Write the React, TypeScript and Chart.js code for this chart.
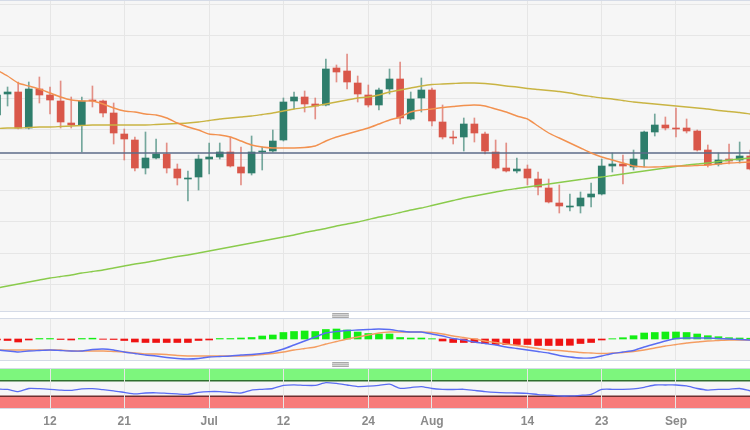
import { useEffect, useRef } from 'react';
import { Chart, registerables } from 'chart.js';

Chart.register(...registerables);

// ---- x axis: trading-day index, labelled days ----
const tickIndex = [5, 12, 20, 27, 35, 41, 50, 57, 64];
const tickLabels = ['12', '21', 'Jul', '12', '24', 'Aug', '14', '23', 'Sep'];

// ---- price candles (index 0 = first trading day shown) ----
const opens = [
  147.70, 148.12, 148.16, 147.44, 148.22, 148.10, 147.98, 147.54, 147.50, 148.00,
  147.98, 147.74, 147.32, 147.20, 146.64, 146.84, 146.92, 146.62, 146.42, 146.46,
  146.82, 146.86, 146.96, 146.66, 146.54, 146.96, 146.98, 147.20, 147.98, 148.06,
  147.92, 147.90, 148.64, 148.58, 148.34, 148.10, 147.90, 148.22, 148.42, 147.62,
  148.04, 148.20, 147.56, 147.26, 147.26, 147.52, 147.32, 146.96, 146.64, 146.58,
  146.62, 146.42, 146.24, 145.94, 145.86, 145.88, 146.06, 146.12, 146.68, 146.72,
  146.66, 146.82, 147.36, 147.50, 147.44, 147.44, 147.38, 147.00, 146.72, 146.82,
  146.80, 146.88,
];
const highs = [
  148.16, 148.26, 148.36, 148.36, 148.46, 148.26, 148.38, 148.06, 148.06, 148.28,
  148.00, 147.94, 147.42, 147.26, 147.36, 147.22, 147.14, 146.72, 146.58, 146.90,
  147.14, 147.14, 147.26, 147.06, 147.28, 147.06, 147.40, 148.04, 148.16, 148.18,
  148.04, 148.82, 148.70, 148.92, 148.48, 148.30, 148.24, 148.62, 148.76, 148.16,
  148.44, 148.24, 147.90, 147.38, 147.64, 147.64, 147.36, 147.20, 147.14, 146.84,
  146.70, 146.56, 146.42, 146.30, 146.12, 146.16, 146.34, 146.82, 146.94, 146.90,
  147.00, 147.38, 147.72, 147.66, 147.84, 147.62, 147.40, 147.10, 146.94, 147.12,
  147.16, 147.00,
];
const lows = [
  147.66, 147.88, 147.42, 147.42, 147.94, 147.72, 147.44, 147.44, 146.96, 147.86,
  147.66, 147.12, 146.80, 146.58, 146.52, 146.82, 146.54, 146.30, 145.98, 146.20,
  146.52, 146.82, 146.66, 146.30, 146.50, 146.60, 146.96, 147.18, 147.82, 147.76,
  147.62, 147.88, 148.36, 148.22, 147.96, 147.86, 147.80, 148.12, 147.52, 147.60,
  147.76, 147.48, 147.22, 147.12, 146.98, 147.16, 146.92, 146.62, 146.56, 146.54,
  146.30, 146.10, 145.94, 145.74, 145.78, 145.74, 145.86, 146.10, 146.56, 146.32,
  146.60, 146.66, 147.28, 147.40, 147.26, 147.34, 146.98, 146.66, 146.68, 146.72,
  146.74, 146.60,
];
const closes = [
  148.10, 148.16, 147.44, 148.22, 148.10, 148.00, 147.56, 147.50, 147.98, 147.98,
  147.74, 147.34, 147.22, 146.64, 146.84, 146.92, 146.64, 146.44, 146.44, 146.82,
  146.86, 146.96, 146.68, 146.54, 146.96, 146.98, 147.18, 147.96, 148.06, 147.92,
  147.88, 148.62, 148.56, 148.36, 148.12, 147.90, 148.20, 148.42, 147.64, 148.02,
  148.20, 147.58, 147.26, 147.24, 147.52, 147.34, 146.98, 146.64, 146.58, 146.62,
  146.44, 146.26, 145.96, 145.88, 145.88, 146.04, 146.12, 146.68, 146.72, 146.68,
  146.82, 147.36, 147.50, 147.44, 147.42, 147.38, 147.00, 146.70, 146.80, 146.78,
  146.88, 146.62,
];

// ---- moving averages ----
const smaFast = [
  148.60, 148.48, 148.34, 148.28, 148.22, 148.14, 148.06, 148.00, 147.98, 147.98,
  147.92, 147.84, 147.78, 147.76, 147.72, 147.70, 147.64, 147.54, 147.46, 147.40,
  147.32, 147.30, 147.26, 147.18, 147.10, 147.06, 147.04, 147.04, 147.04, 147.05,
  147.08, 147.18, 147.26, 147.32, 147.38, 147.44, 147.52, 147.60, 147.66, 147.76,
  147.80, 147.82, 147.85, 147.87, 147.89, 147.90, 147.88, 147.82, 147.76, 147.68,
  147.62, 147.48, 147.34, 147.24, 147.14, 147.04, 146.94, 146.86, 146.80, 146.74,
  146.68, 146.66, 146.66, 146.67, 146.68, 146.68, 146.69, 146.70, 146.72, 146.74,
  146.75, 146.76,
];
const smaMid = [
  147.43, 147.44, 147.44, 147.45, 147.46, 147.46, 147.47, 147.48, 147.49, 147.50,
  147.50, 147.50, 147.50, 147.50, 147.50, 147.51, 147.52, 147.53, 147.54, 147.56,
  147.59, 147.62, 147.64, 147.66, 147.68, 147.71, 147.74, 147.78, 147.82, 147.85,
  147.88, 147.92, 147.96, 148.00, 148.04, 148.06, 148.10, 148.16, 148.20, 148.24,
  148.28, 148.31, 148.32, 148.33, 148.34, 148.34, 148.33, 148.31, 148.28, 148.26,
  148.23, 148.21, 148.19, 148.17, 148.14, 148.10, 148.07, 148.04, 148.02, 147.99,
  147.96, 147.94, 147.92, 147.90, 147.88, 147.86, 147.84, 147.82, 147.79, 147.77,
  147.75, 147.72,
];
const smaSlow = [
  144.24, 144.28, 144.32, 144.36, 144.40, 144.44, 144.47, 144.50, 144.54, 144.57,
  144.60, 144.64, 144.68, 144.72, 144.75, 144.79, 144.83, 144.87, 144.90, 144.94,
  144.98, 145.02, 145.06, 145.10, 145.14, 145.18, 145.22, 145.26, 145.30, 145.35,
  145.39, 145.43, 145.48, 145.52, 145.56, 145.61, 145.66, 145.70, 145.75, 145.80,
  145.84, 145.89, 145.94, 145.99, 146.04, 146.08, 146.12, 146.16, 146.20, 146.23,
  146.26, 146.29, 146.32, 146.35, 146.38, 146.41, 146.44, 146.46, 146.49, 146.52,
  146.55, 146.58, 146.61, 146.64, 146.67, 146.70, 146.72, 146.74, 146.77, 146.80,
  146.82, 146.84,
];
const refLevel = 146.94;
const priceGridLevels = [149.90, 149.28, 148.66, 148.04, 147.42, 146.80, 146.18, 145.56, 144.94, 144.32];

// ---- MACD ----
const macdHist = [
  -0.010, -0.015, -0.030, -0.010, 0.005, 0.005, -0.005, -0.010, 0.005, 0.008,
  -0.003, -0.005, -0.015, -0.030, -0.035, -0.035, -0.035, -0.035, -0.035, -0.015,
  -0.010, 0.005, 0.005, 0.010, 0.015, 0.030, 0.040, 0.065, 0.075, 0.080,
  0.075, 0.095, 0.100, 0.090, 0.070, 0.055, 0.050, 0.050, 0.015, 0.010,
  0.010, 0.003, -0.020, -0.035, -0.035, -0.035, -0.045, -0.055, -0.055, -0.055,
  -0.055, -0.065, -0.065, -0.065, -0.063, -0.045, -0.035, -0.010, 0.003, 0.013,
  0.033, 0.060, 0.065, 0.070, 0.070, 0.065, 0.050, 0.033, 0.023, 0.013,
  0.010, 0.008,
];
const macdLine = [
  -0.110, -0.120, -0.130, -0.120, -0.115, -0.110, -0.115, -0.120, -0.120, -0.105,
  -0.100, -0.110, -0.130, -0.145, -0.160, -0.170, -0.185, -0.195, -0.200, -0.195,
  -0.180, -0.175, -0.170, -0.160, -0.155, -0.145, -0.130, -0.100, -0.060, -0.020,
  0.020, 0.060, 0.075, 0.085, 0.090, 0.095, 0.100, 0.095, 0.080, 0.070,
  0.070, 0.050, 0.030, 0.005, -0.010, -0.030, -0.045, -0.060, -0.080, -0.095,
  -0.110, -0.125, -0.140, -0.165, -0.180, -0.190, -0.190, -0.170, -0.145, -0.130,
  -0.115, -0.080, -0.050, -0.020, 0.005, 0.010, 0.010, 0.010, 0.005, 0.000,
  -0.005, -0.010,
];
const macdSignal = [
  -0.110, -0.110, -0.110, -0.110, -0.110, -0.110, -0.110, -0.120, -0.120, -0.120,
  -0.120, -0.125, -0.130, -0.140, -0.150, -0.150, -0.155, -0.165, -0.170, -0.170,
  -0.170, -0.170, -0.170, -0.170, -0.165, -0.155, -0.145, -0.130, -0.110, -0.095,
  -0.080, -0.050, -0.025, 0.000, 0.020, 0.040, 0.060, 0.070, 0.070, 0.070,
  0.070, 0.065, 0.050, 0.030, 0.015, 0.000, -0.020, -0.035, -0.050, -0.065,
  -0.080, -0.095, -0.110, -0.115, -0.125, -0.135, -0.140, -0.145, -0.140, -0.135,
  -0.125, -0.110, -0.090, -0.070, -0.055, -0.040, -0.030, -0.020, -0.015, -0.010,
  -0.010, -0.010,
];

// ---- RSI ----
const rsi = [
  49, 47.5, 42, 50, 49.5, 48, 46, 45, 49, 49.5,
  47, 44, 40, 36, 38.5, 39, 37.5, 36, 35, 40,
  42, 42, 40, 38.5, 46, 48, 50, 58, 59.5, 58,
  58, 65, 63, 59, 55, 56, 58, 61, 50.5, 52.5,
  55, 50, 48, 47.5, 48, 45, 42, 40, 39, 38.5,
  37.5, 34.5, 33, 31, 31, 32.5, 35, 47.5, 48, 48,
  49, 53, 59, 59, 59, 56.5, 50, 46, 47.5, 48,
  50, 44,
];
const rsiUpper = 70;
const rsiLower = 30;

// ---- styling ----
const X_MIN = 0.2875;
const X_MAX = 70.975;
const GRID = '#e6e6e6';
const PANEL_BG = '#f6f6f6';
const BORDER = '#d5dbe7';
const UP = '#2e7d6b';
const DOWN = '#d9574a';
const UP_WICK = 'rgba(46,125,107,0.65)';
const DOWN_WICK = 'rgba(217,87,74,0.65)';

const idx = opens.map((_, i) => i);

function xAxis(labelHeight: number) {
  return {
    type: 'linear' as const,
    min: X_MIN,
    max: X_MAX,
    offset: false,
    afterBuildTicks: (s: any) => {
      s.ticks = tickIndex.map((v) => ({ value: v }));
    },
    afterFit: (s: any) => {
      s.height = labelHeight;
    },
    grid: { color: GRID, lineWidth: 1, drawTicks: false, offset: false },
    border: { display: false },
    ticks: {
      display: labelHeight > 0,
      autoSkip: false,
      maxRotation: 0,
      padding: 6,
      color: '#8a8a8a',
      font: { family: 'Liberation Sans, Arial, sans-serif', size: 12, weight: 'bold' as const },
      callback: (v: any) => {
        const k = tickIndex.indexOf(Number(v));
        return k >= 0 ? tickLabels[k] : '';
      },
    },
  };
}

function yAxis(min: number, max: number, levels: number[] | null) {
  return {
    type: 'linear' as const,
    min,
    max,
    position: 'left' as const,
    afterBuildTicks: (s: any) => {
      s.ticks = (levels || []).map((v) => ({ value: v }));
    },
    afterFit: (s: any) => {
      s.width = 0;
    },
    grid: { color: GRID, lineWidth: 1, drawTicks: false, display: !!levels },
    border: { display: false },
    ticks: { display: false },
  };
}

const baseOptions = {
  responsive: false,
  animation: false as const,
  devicePixelRatio: 1,
  layout: { padding: 0 },
  events: [] as any[],
  plugins: { legend: { display: false }, tooltip: { enabled: false } },
};

const rsiBands = {
  id: 'rsiBands',
  beforeDraw(chart: any) {
    const { ctx, chartArea: a, scales } = chart;
    const y = scales.y;
    const y100 = y.getPixelForValue(100);
    const yU = y.getPixelForValue(rsiUpper);
    const yL = y.getPixelForValue(rsiLower);
    const y0 = y.getPixelForValue(0);
    ctx.save();
    ctx.fillStyle = '#7df67d';
    ctx.fillRect(a.left, y100, a.right - a.left, yU - y100);
    ctx.fillStyle = '#f77b7b';
    ctx.fillRect(a.left, yL, a.right - a.left, y0 - yL);
    ctx.lineWidth = 1.5;
    ctx.strokeStyle = '#2f6e2f';
    ctx.beginPath();
    ctx.moveTo(a.left, yU);
    ctx.lineTo(a.right, yU);
    ctx.stroke();
    ctx.strokeStyle = '#6e2f2f';
    ctx.beginPath();
    ctx.moveTo(a.left, yL);
    ctx.lineTo(a.right, yL);
    ctx.stroke();
    ctx.restore();
  },
};

function lineDs(values: number[], color: string, width: number, order: number) {
  return {
    type: 'line' as const,
    data: idx.map((i) => ({ x: i, y: values[i] })),
    borderColor: color,
    borderWidth: width,
    pointRadius: 0,
    tension: 0.2,
    fill: false,
    order,
  };
}

export default function App() {
  const mainRef = useRef<HTMLCanvasElement>(null);
  const macdRef = useRef<HTMLCanvasElement>(null);
  const rsiRef = useRef<HTMLCanvasElement>(null);

  useEffect(() => {
    const up = idx.map((i) => closes[i] >= opens[i]);
    const main = new Chart(mainRef.current as HTMLCanvasElement, {
      type: 'bar',
      data: {
        datasets: [
          {
            type: 'bar',
            data: idx.map((i) => ({ x: i, y: [opens[i], closes[i]] })) as any,
            backgroundColor: idx.map((i) => (up[i] ? UP : DOWN)),
            borderWidth: 0,
            barThickness: 7,
            grouped: false,
            order: 1,
          } as any,
          {
            type: 'bar',
            data: idx.map((i) => ({ x: i, y: [lows[i], highs[i]] })) as any,
            backgroundColor: idx.map((i) => (up[i] ? UP_WICK : DOWN_WICK)),
            borderWidth: 0,
            barThickness: 1,
            grouped: false,
            order: 2,
          } as any,
          lineDs(smaFast, '#f2914f', 1.4, 0) as any,
          lineDs(smaMid, '#c9b443', 1.4, 0) as any,
          lineDs(smaSlow, '#8acb4c', 1.4, 0) as any,
          {
            type: 'line',
            data: [
              { x: -1, y: refLevel },
              { x: 80, y: refLevel },
            ],
            borderColor: '#5d6b88',
            borderWidth: 1.5,
            pointRadius: 0,
            order: 0,
          } as any,
        ],
      },
      options: {
        ...baseOptions,
        scales: {
          x: xAxis(0) as any,
          y: yAxis(150 - 311 / 50, 150 - 1 / 50, priceGridLevels) as any,
        },
      } as any,
    });

    const macd = new Chart(macdRef.current as HTMLCanvasElement, {
      type: 'bar',
      data: {
        datasets: [
          {
            type: 'bar',
            data: idx.map((i) => ({ x: i, y: macdHist[i] })) as any,
            backgroundColor: macdHist.map((v) => (v >= 0 ? '#13ee13' : '#ee1313')),
            borderWidth: 0,
            barThickness: 7,
            grouped: false,
            order: 2,
          } as any,
          lineDs(macdLine, '#5a6cf2', 1.4, 0) as any,
          lineDs(macdSignal, '#f49d62', 1.4, 1) as any,
        ],
      },
      options: {
        ...baseOptions,
        scales: {
          x: xAxis(0) as any,
          y: yAxis(-0.21, 0.2, null) as any,
        },
      } as any,
    });

    const rsiChart = new Chart(rsiRef.current as HTMLCanvasElement, {
      type: 'line',
      data: {
        datasets: [lineDs(rsi, '#5a6cf2', 1.3, 0) as any],
      },
      options: {
        ...baseOptions,
        scales: {
          x: xAxis(22) as any,
          y: yAxis(0, 100, null) as any,
        },
      } as any,
      plugins: [rsiBands],
    });

    return () => {
      main.destroy();
      macd.destroy();
      rsiChart.destroy();
    };
  }, []);

  const abs = (top: number, height: number, bg: string, extra: any = {}) => ({
    position: 'absolute' as const,
    left: 0,
    top,
    width: 750,
    height,
    background: bg,
    ...extra,
  });

  const handle = (top: number) => (
    <div
      style={{
        position: 'absolute',
        left: 332,
        top,
        width: 17,
        height: 5,
        background: '#d4d4d4',
        borderRadius: 1,
        boxSizing: 'border-box',
        borderTop: '1px solid #a8a8a8',
        borderBottom: '1px solid #a8a8a8',
      }}
    >
      <div style={{ position: 'absolute', left: 0, top: 1, width: 17, height: 1, background: '#b8b8b8' }} />
    </div>
  );

  return (
    <div style={{ position: 'fixed', left: 0, top: 0, width: 750, height: 430, background: '#ffffff', overflow: 'hidden' }}>
      <div style={abs(0, 1, BORDER)} />
      <div style={abs(1, 310, PANEL_BG)}>
        <canvas ref={mainRef} width={750} height={310} style={{ display: 'block' }} />
      </div>
      <div style={abs(311, 1, BORDER)} />
      {handle(313)}
      <div style={abs(318, 1, BORDER)} />
      <div style={abs(319, 41, PANEL_BG)}>
        <canvas ref={macdRef} width={750} height={41} style={{ display: 'block' }} />
      </div>
      <div style={abs(360, 1, BORDER)} />
      {handle(362)}
      <div style={abs(368, 1, BORDER)} />
      <div style={abs(369, 39, PANEL_BG)} />
      <div style={abs(408, 1, BORDER)} />
      <div style={abs(369, 61, 'transparent')}>
        <canvas ref={rsiRef} width={750} height={61} style={{ display: 'block' }} />
      </div>
    </div>
  );
}
